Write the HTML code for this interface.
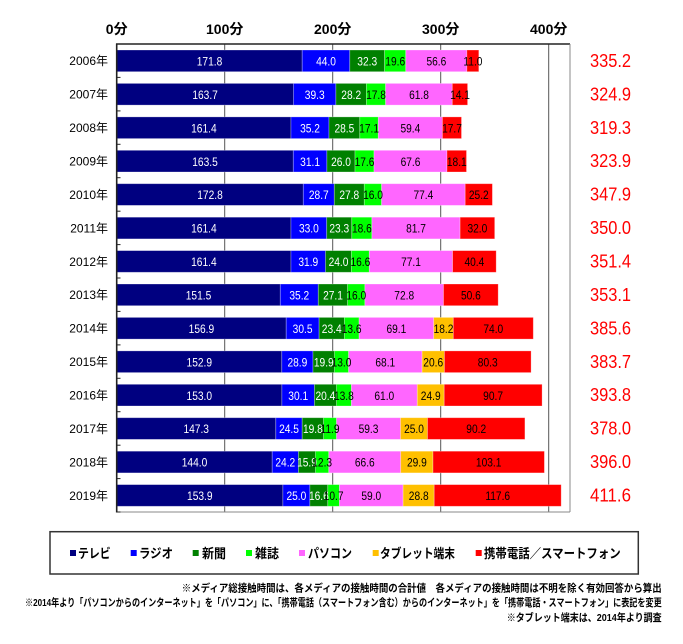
<!DOCTYPE html>
<html><head><meta charset="utf-8"><style>
html,body{margin:0;padding:0;background:#fff;}
svg{display:block;}
.v{font-family:"Liberation Sans",sans-serif;font-size:12px;text-anchor:middle;transform-box:fill-box;transform-origin:center;transform:scaleX(0.85);}
.w{fill:#fff;}
.b{fill:#000;}
.yr{font-family:"Liberation Sans","Noto Sans CJK JP",sans-serif;font-size:12px;text-anchor:end;fill:#000;}
.tot{font-family:"Liberation Sans",sans-serif;font-size:18.7px;fill:#ff0000;}
.ax{font-family:"Liberation Sans","Noto Sans CJK JP",sans-serif;font-size:14px;font-weight:bold;text-anchor:middle;fill:#000;}
.lg{font-family:"Liberation Sans","Noto Sans CJK JP",sans-serif;font-size:13px;font-weight:bold;fill:#000;}
.fn{font-family:"Liberation Sans","Noto Sans CJK JP",sans-serif;font-size:10.5px;font-weight:bold;fill:#000;}
rect.s{stroke:rgba(255,255,255,0.35);stroke-width:0.8;}
</style></head><body>
<svg width="683" height="644" viewBox="0 0 683 644" xmlns="http://www.w3.org/2000/svg">
<!-- axis labels -->
<text class="ax" x="116.7" y="34">0分</text>
<text class="ax" x="224.7" y="34">100分</text>
<text class="ax" x="332.7" y="34">200分</text>
<text class="ax" x="440.7" y="34">300分</text>
<text class="ax" x="548.7" y="34">400分</text>

<!-- gridlines -->
<g stroke="#555" stroke-width="1">
<line x1="224.7" y1="44" x2="224.7" y2="512"/>
<line x1="332.7" y1="44" x2="332.7" y2="512"/>
<line x1="440.7" y1="44" x2="440.7" y2="512"/>
<line x1="548.7" y1="44" x2="548.7" y2="512"/>
</g>
<line x1="116" y1="44" x2="570" y2="44" stroke="#222" stroke-width="1.6"/>
<line x1="570" y1="44" x2="570" y2="512" stroke="#888" stroke-width="1"/>
<line x1="116.7" y1="512" x2="570" y2="512" stroke="#888" stroke-width="1"/>

<!-- rows -->
<g transform="translate(0,50)">
<rect class="s" x="116.7" y="0" width="185.5" height="21.7" fill="#000080"/>
<rect class="s" x="302.2" y="0" width="47.6" height="21.7" fill="#0000ff"/>
<rect class="s" x="349.8" y="0" width="34.8" height="21.7" fill="#008000"/>
<rect class="s" x="384.6" y="0" width="21.2" height="21.7" fill="#00ff00"/>
<rect class="s" x="405.8" y="0" width="61.1" height="21.7" fill="#ff66ff"/>
<rect class="s" x="466.9" y="0" width="11.9" height="21.7" fill="#ff0000"/>
<text class="v w" x="209.5" y="15.5">171.8</text>
<text class="v w" x="326.0" y="15.5">44.0</text>
<text class="v w" x="367.2" y="15.5">32.3</text>
<text class="v b" x="395.2" y="15.5">19.6</text>
<text class="v b" x="436.4" y="15.5">56.6</text>
<text class="v b" x="472.9" y="15.5">11.0</text>
<text class="yr" x="108" y="15.2">2006年</text>
<text class="tot" x="590" y="16.9" textLength="41" lengthAdjust="spacingAndGlyphs">335.2</text>
</g>

<g transform="translate(0,83.4)">
<rect class="s" x="116.7" y="0" width="176.8" height="21.7" fill="#000080"/>
<rect class="s" x="293.5" y="0" width="42.4" height="21.7" fill="#0000ff"/>
<rect class="s" x="335.9" y="0" width="30.5" height="21.7" fill="#008000"/>
<rect class="s" x="366.4" y="0" width="19.2" height="21.7" fill="#00ff00"/>
<rect class="s" x="385.6" y="0" width="66.7" height="21.7" fill="#ff66ff"/>
<rect class="s" x="452.3" y="0" width="15.3" height="21.7" fill="#ff0000"/>
<text class="v w" x="205.1" y="15.5">163.7</text>
<text class="v w" x="314.7" y="15.5">39.3</text>
<text class="v w" x="351.2" y="15.5">28.2</text>
<text class="v b" x="376.0" y="15.5">17.8</text>
<text class="v b" x="419.0" y="15.5">61.8</text>
<text class="v b" x="460.0" y="15.5">14.1</text>
<text class="yr" x="108" y="15.2">2007年</text>
<text class="tot" x="590" y="16.9" textLength="41" lengthAdjust="spacingAndGlyphs">324.9</text>
</g>

<g transform="translate(0,116.9)">
<rect class="s" x="116.7" y="0" width="174.3" height="21.7" fill="#000080"/>
<rect class="s" x="291.0" y="0" width="38.0" height="21.7" fill="#0000ff"/>
<rect class="s" x="329.0" y="0" width="30.8" height="21.7" fill="#008000"/>
<rect class="s" x="359.8" y="0" width="18.5" height="21.7" fill="#00ff00"/>
<rect class="s" x="378.3" y="0" width="64.1" height="21.7" fill="#ff66ff"/>
<rect class="s" x="442.4" y="0" width="19.1" height="21.7" fill="#ff0000"/>
<text class="v w" x="203.9" y="15.5">161.4</text>
<text class="v w" x="310.0" y="15.5">35.2</text>
<text class="v w" x="344.4" y="15.5">28.5</text>
<text class="v b" x="369.1" y="15.5">17.1</text>
<text class="v b" x="410.4" y="15.5">59.4</text>
<text class="v b" x="452.0" y="15.5">17.7</text>
<text class="yr" x="108" y="15.2">2008年</text>
<text class="tot" x="590" y="16.9" textLength="41" lengthAdjust="spacingAndGlyphs">319.3</text>
</g>

<g transform="translate(0,150.3)">
<rect class="s" x="116.7" y="0" width="176.6" height="21.7" fill="#000080"/>
<rect class="s" x="293.3" y="0" width="33.6" height="21.7" fill="#0000ff"/>
<rect class="s" x="326.9" y="0" width="28.1" height="21.7" fill="#008000"/>
<rect class="s" x="355.0" y="0" width="19.0" height="21.7" fill="#00ff00"/>
<rect class="s" x="374.0" y="0" width="73.0" height="21.7" fill="#ff66ff"/>
<rect class="s" x="447.0" y="0" width="19.5" height="21.7" fill="#ff0000"/>
<text class="v w" x="205.0" y="15.5">163.5</text>
<text class="v w" x="310.1" y="15.5">31.1</text>
<text class="v w" x="341.0" y="15.5">26.0</text>
<text class="v b" x="364.5" y="15.5">17.6</text>
<text class="v b" x="410.5" y="15.5">67.6</text>
<text class="v b" x="456.8" y="15.5">18.1</text>
<text class="yr" x="108" y="15.2">2009年</text>
<text class="tot" x="590" y="16.9" textLength="41" lengthAdjust="spacingAndGlyphs">323.9</text>
</g>

<g transform="translate(0,183.7)">
<rect class="s" x="116.7" y="0" width="186.6" height="21.7" fill="#000080"/>
<rect class="s" x="303.3" y="0" width="31.0" height="21.7" fill="#0000ff"/>
<rect class="s" x="334.3" y="0" width="30.0" height="21.7" fill="#008000"/>
<rect class="s" x="364.3" y="0" width="17.3" height="21.7" fill="#00ff00"/>
<rect class="s" x="381.6" y="0" width="83.6" height="21.7" fill="#ff66ff"/>
<rect class="s" x="465.2" y="0" width="27.2" height="21.7" fill="#ff0000"/>
<text class="v w" x="210.0" y="15.5">172.8</text>
<text class="v w" x="318.8" y="15.5">28.7</text>
<text class="v w" x="349.3" y="15.5">27.8</text>
<text class="v b" x="373.0" y="15.5">16.0</text>
<text class="v b" x="423.4" y="15.5">77.4</text>
<text class="v b" x="478.8" y="15.5">25.2</text>
<text class="yr" x="108" y="15.2">2010年</text>
<text class="tot" x="590" y="16.9" textLength="41" lengthAdjust="spacingAndGlyphs">347.9</text>
</g>

<g transform="translate(0,217.2)">
<rect class="s" x="116.7" y="0" width="174.3" height="21.7" fill="#000080"/>
<rect class="s" x="291.0" y="0" width="35.7" height="21.7" fill="#0000ff"/>
<rect class="s" x="326.7" y="0" width="25.1" height="21.7" fill="#008000"/>
<rect class="s" x="351.8" y="0" width="20.1" height="21.7" fill="#00ff00"/>
<rect class="s" x="371.9" y="0" width="88.2" height="21.7" fill="#ff66ff"/>
<rect class="s" x="460.1" y="0" width="34.6" height="21.7" fill="#ff0000"/>
<text class="v w" x="203.9" y="15.5">161.4</text>
<text class="v w" x="308.9" y="15.5">33.0</text>
<text class="v w" x="339.3" y="15.5">23.3</text>
<text class="v b" x="361.9" y="15.5">18.6</text>
<text class="v b" x="416.0" y="15.5">81.7</text>
<text class="v b" x="477.4" y="15.5">32.0</text>
<text class="yr" x="108" y="15.2">2011年</text>
<text class="tot" x="590" y="16.9" textLength="41" lengthAdjust="spacingAndGlyphs">350.0</text>
</g>

<g transform="translate(0,250.6)">
<rect class="s" x="116.7" y="0" width="174.3" height="21.7" fill="#000080"/>
<rect class="s" x="291.0" y="0" width="34.5" height="21.7" fill="#0000ff"/>
<rect class="s" x="325.5" y="0" width="25.9" height="21.7" fill="#008000"/>
<rect class="s" x="351.4" y="0" width="17.9" height="21.7" fill="#00ff00"/>
<rect class="s" x="369.3" y="0" width="83.3" height="21.7" fill="#ff66ff"/>
<rect class="s" x="452.6" y="0" width="43.6" height="21.7" fill="#ff0000"/>
<text class="v w" x="203.9" y="15.5">161.4</text>
<text class="v w" x="308.3" y="15.5">31.9</text>
<text class="v w" x="338.5" y="15.5">24.0</text>
<text class="v b" x="360.4" y="15.5">16.6</text>
<text class="v b" x="411.0" y="15.5">77.1</text>
<text class="v b" x="474.4" y="15.5">40.4</text>
<text class="yr" x="108" y="15.2">2012年</text>
<text class="tot" x="590" y="16.9" textLength="41" lengthAdjust="spacingAndGlyphs">351.4</text>
</g>

<g transform="translate(0,284.0)">
<rect class="s" x="116.7" y="0" width="163.6" height="21.7" fill="#000080"/>
<rect class="s" x="280.3" y="0" width="38.0" height="21.7" fill="#0000ff"/>
<rect class="s" x="318.3" y="0" width="29.3" height="21.7" fill="#008000"/>
<rect class="s" x="347.6" y="0" width="17.3" height="21.7" fill="#00ff00"/>
<rect class="s" x="364.9" y="0" width="78.6" height="21.7" fill="#ff66ff"/>
<rect class="s" x="443.5" y="0" width="54.7" height="21.7" fill="#ff0000"/>
<text class="v w" x="198.5" y="15.5">151.5</text>
<text class="v w" x="299.3" y="15.5">35.2</text>
<text class="v w" x="333.0" y="15.5">27.1</text>
<text class="v b" x="356.3" y="15.5">16.0</text>
<text class="v b" x="404.2" y="15.5">72.8</text>
<text class="v b" x="470.9" y="15.5">50.6</text>
<text class="yr" x="108" y="15.2">2013年</text>
<text class="tot" x="590" y="16.9" textLength="41" lengthAdjust="spacingAndGlyphs">353.1</text>
</g>

<g transform="translate(0,317.4)">
<rect class="s" x="116.7" y="0" width="169.5" height="21.7" fill="#000080"/>
<rect class="s" x="286.2" y="0" width="32.9" height="21.7" fill="#0000ff"/>
<rect class="s" x="319.1" y="0" width="25.3" height="21.7" fill="#008000"/>
<rect class="s" x="344.4" y="0" width="14.7" height="21.7" fill="#00ff00"/>
<rect class="s" x="359.1" y="0" width="74.6" height="21.7" fill="#ff66ff"/>
<rect class="s" x="433.7" y="0" width="19.6" height="21.7" fill="#ffc000"/>
<rect class="s" x="453.3" y="0" width="80.0" height="21.7" fill="#ff0000"/>
<text class="v w" x="201.4" y="15.5">156.9</text>
<text class="v w" x="302.6" y="15.5">30.5</text>
<text class="v w" x="331.7" y="15.5">23.4</text>
<text class="v b" x="351.7" y="15.5">13.6</text>
<text class="v b" x="396.4" y="15.5">69.1</text>
<text class="v b" x="443.5" y="15.5">18.2</text>
<text class="v b" x="493.3" y="15.5">74.0</text>
<text class="yr" x="108" y="15.2">2014年</text>
<text class="tot" x="590" y="16.9" textLength="41" lengthAdjust="spacingAndGlyphs">385.6</text>
</g>

<g transform="translate(0,350.9)">
<rect class="s" x="116.7" y="0" width="165.1" height="21.7" fill="#000080"/>
<rect class="s" x="281.8" y="0" width="31.2" height="21.7" fill="#0000ff"/>
<rect class="s" x="313.0" y="0" width="21.5" height="21.7" fill="#008000"/>
<rect class="s" x="334.5" y="0" width="14.1" height="21.7" fill="#00ff00"/>
<rect class="s" x="348.6" y="0" width="73.5" height="21.7" fill="#ff66ff"/>
<rect class="s" x="422.1" y="0" width="22.3" height="21.7" fill="#ffc000"/>
<rect class="s" x="444.4" y="0" width="86.7" height="21.7" fill="#ff0000"/>
<text class="v w" x="199.3" y="15.5">152.9</text>
<text class="v w" x="297.4" y="15.5">28.9</text>
<text class="v w" x="323.8" y="15.5">19.9</text>
<text class="v b" x="341.5" y="15.5">13.0</text>
<text class="v b" x="385.3" y="15.5">68.1</text>
<text class="v b" x="433.2" y="15.5">20.6</text>
<text class="v b" x="487.7" y="15.5">80.3</text>
<text class="yr" x="108" y="15.2">2015年</text>
<text class="tot" x="590" y="16.9" textLength="41" lengthAdjust="spacingAndGlyphs">383.7</text>
</g>

<g transform="translate(0,384.3)">
<rect class="s" x="116.7" y="0" width="165.2" height="21.7" fill="#000080"/>
<rect class="s" x="281.9" y="0" width="32.5" height="21.7" fill="#0000ff"/>
<rect class="s" x="314.4" y="0" width="22.1" height="21.7" fill="#008000"/>
<rect class="s" x="336.5" y="0" width="14.9" height="21.7" fill="#00ff00"/>
<rect class="s" x="351.4" y="0" width="65.9" height="21.7" fill="#ff66ff"/>
<rect class="s" x="417.3" y="0" width="26.9" height="21.7" fill="#ffc000"/>
<rect class="s" x="444.2" y="0" width="97.9" height="21.7" fill="#ff0000"/>
<text class="v w" x="199.3" y="15.5">153.0</text>
<text class="v w" x="298.2" y="15.5">30.1</text>
<text class="v w" x="325.4" y="15.5">20.4</text>
<text class="v b" x="343.9" y="15.5">13.8</text>
<text class="v b" x="384.3" y="15.5">61.0</text>
<text class="v b" x="430.7" y="15.5">24.9</text>
<text class="v b" x="493.1" y="15.5">90.7</text>
<text class="yr" x="108" y="15.2">2016年</text>
<text class="tot" x="590" y="16.9" textLength="41" lengthAdjust="spacingAndGlyphs">393.8</text>
</g>

<g transform="translate(0,417.7)">
<rect class="s" x="116.7" y="0" width="159.1" height="21.7" fill="#000080"/>
<rect class="s" x="275.8" y="0" width="26.4" height="21.7" fill="#0000ff"/>
<rect class="s" x="302.2" y="0" width="21.4" height="21.7" fill="#008000"/>
<rect class="s" x="323.6" y="0" width="12.9" height="21.7" fill="#00ff00"/>
<rect class="s" x="336.5" y="0" width="64.0" height="21.7" fill="#ff66ff"/>
<rect class="s" x="400.5" y="0" width="27.0" height="21.7" fill="#ffc000"/>
<rect class="s" x="427.5" y="0" width="97.4" height="21.7" fill="#ff0000"/>
<text class="v w" x="196.2" y="15.5">147.3</text>
<text class="v w" x="289.0" y="15.5">24.5</text>
<text class="v w" x="312.9" y="15.5">19.8</text>
<text class="v b" x="330.0" y="15.5">11.9</text>
<text class="v b" x="368.5" y="15.5">59.3</text>
<text class="v b" x="414.0" y="15.5">25.0</text>
<text class="v b" x="476.2" y="15.5">90.2</text>
<text class="yr" x="108" y="15.2">2017年</text>
<text class="tot" x="590" y="16.9" textLength="41" lengthAdjust="spacingAndGlyphs">378.0</text>
</g>

<g transform="translate(0,451.2)">
<rect class="s" x="116.7" y="0" width="155.5" height="21.7" fill="#000080"/>
<rect class="s" x="272.2" y="0" width="26.2" height="21.7" fill="#0000ff"/>
<rect class="s" x="298.4" y="0" width="17.1" height="21.7" fill="#008000"/>
<rect class="s" x="315.5" y="0" width="13.3" height="21.7" fill="#00ff00"/>
<rect class="s" x="328.8" y="0" width="71.9" height="21.7" fill="#ff66ff"/>
<rect class="s" x="400.7" y="0" width="32.3" height="21.7" fill="#ffc000"/>
<rect class="s" x="433.0" y="0" width="111.4" height="21.7" fill="#ff0000"/>
<text class="v w" x="194.5" y="15.5">144.0</text>
<text class="v w" x="285.3" y="15.5">24.2</text>
<text class="v w" x="307.0" y="15.5">15.9</text>
<text class="v b" x="322.2" y="15.5">12.3</text>
<text class="v b" x="364.8" y="15.5">66.6</text>
<text class="v b" x="416.9" y="15.5">29.9</text>
<text class="v b" x="488.7" y="15.5">103.1</text>
<text class="yr" x="108" y="15.2">2018年</text>
<text class="tot" x="590" y="16.9" textLength="41" lengthAdjust="spacingAndGlyphs">396.0</text>
</g>

<g transform="translate(0,484.6)">
<rect class="s" x="116.7" y="0" width="166.2" height="21.7" fill="#000080"/>
<rect class="s" x="282.9" y="0" width="27.0" height="21.7" fill="#0000ff"/>
<rect class="s" x="309.9" y="0" width="17.9" height="21.7" fill="#008000"/>
<rect class="s" x="327.8" y="0" width="11.6" height="21.7" fill="#00ff00"/>
<rect class="s" x="339.4" y="0" width="63.7" height="21.7" fill="#ff66ff"/>
<rect class="s" x="403.1" y="0" width="31.1" height="21.7" fill="#ffc000"/>
<rect class="s" x="434.2" y="0" width="127.0" height="21.7" fill="#ff0000"/>
<text class="v w" x="199.8" y="15.5">153.9</text>
<text class="v w" x="296.4" y="15.5">25.0</text>
<text class="v w" x="318.9" y="15.5">16.6</text>
<text class="v b" x="333.6" y="15.5">10.7</text>
<text class="v b" x="371.3" y="15.5">59.0</text>
<text class="v b" x="418.7" y="15.5">28.8</text>
<text class="v b" x="497.7" y="15.5">117.6</text>
<text class="yr" x="108" y="15.2">2019年</text>
<text class="tot" x="590" y="16.9" textLength="41" lengthAdjust="spacingAndGlyphs">411.6</text>
</g>

<!-- left axis + ticks -->
<line x1="116.7" y1="43.5" x2="116.7" y2="512.5" stroke="#222" stroke-width="1.6"/>
<g stroke="#222" stroke-width="1">
<line x1="116.7" y1="77.4" x2="120.5" y2="77.4"/>
<line x1="116.7" y1="110.9" x2="120.5" y2="110.9"/>
<line x1="116.7" y1="144.3" x2="120.5" y2="144.3"/>
<line x1="116.7" y1="177.7" x2="120.5" y2="177.7"/>
<line x1="116.7" y1="211.2" x2="120.5" y2="211.2"/>
<line x1="116.7" y1="244.6" x2="120.5" y2="244.6"/>
<line x1="116.7" y1="278.0" x2="120.5" y2="278.0"/>
<line x1="116.7" y1="311.4" x2="120.5" y2="311.4"/>
<line x1="116.7" y1="344.9" x2="120.5" y2="344.9"/>
<line x1="116.7" y1="378.3" x2="120.5" y2="378.3"/>
<line x1="116.7" y1="411.7" x2="120.5" y2="411.7"/>
<line x1="116.7" y1="445.2" x2="120.5" y2="445.2"/>
<line x1="116.7" y1="478.6" x2="120.5" y2="478.6"/>
<line x1="116.7" y1="512" x2="120.5" y2="512"/>
</g>

<!-- legend -->
<rect x="50" y="531.7" width="588.3" height="42.3" fill="#fff" stroke="#333" stroke-width="1.5"/>
<rect x="70" y="550" width="6" height="6" fill="#000080"/>
<text class="lg" x="78" y="558" textLength="32.7" lengthAdjust="spacingAndGlyphs">テレビ</text>
<rect x="130.7" y="550" width="6" height="6" fill="#0000ff"/>
<text class="lg" x="139" y="558" textLength="34" lengthAdjust="spacingAndGlyphs">ラジオ</text>
<rect x="192.7" y="550" width="6" height="6" fill="#008000"/>
<text class="lg" x="202" y="558" textLength="24" lengthAdjust="spacingAndGlyphs">新聞</text>
<rect x="246" y="550" width="6" height="6" fill="#00ff00"/>
<text class="lg" x="255" y="558" textLength="24" lengthAdjust="spacingAndGlyphs">雑誌</text>
<rect x="299" y="550" width="6" height="6" fill="#ff66ff"/>
<text class="lg" x="308" y="558" textLength="44" lengthAdjust="spacingAndGlyphs">パソコン</text>
<rect x="372.7" y="550" width="6" height="6" fill="#ffc000"/>
<text class="lg" x="380" y="558" textLength="75" lengthAdjust="spacingAndGlyphs">タブレット端末</text>
<rect x="475.7" y="550" width="6" height="6" fill="#ff0000"/>
<text class="lg" x="484" y="558" textLength="136.7" lengthAdjust="spacingAndGlyphs">携帯電話／スマートフォン</text>

<!-- footnotes -->
<text class="fn" x="181.7" y="591.7" textLength="480" lengthAdjust="spacingAndGlyphs">※メディア総接触時間は、各メディアの接触時間の合計値　各メディアの接触時間は不明を除く有効回答から算出</text>
<text class="fn" x="25" y="606.2" textLength="636.7" lengthAdjust="spacingAndGlyphs">※2014年より「パソコンからのインターネット」を「パソコン」に、「携帯電話（スマートフォン含む）からのインターネット」を「携帯電話・スマートフォン」に表記を変更</text>
<text class="fn" x="506.7" y="621" textLength="155" lengthAdjust="spacingAndGlyphs">※タブレット端末は、2014年より調査</text>
</svg>
</body></html>
